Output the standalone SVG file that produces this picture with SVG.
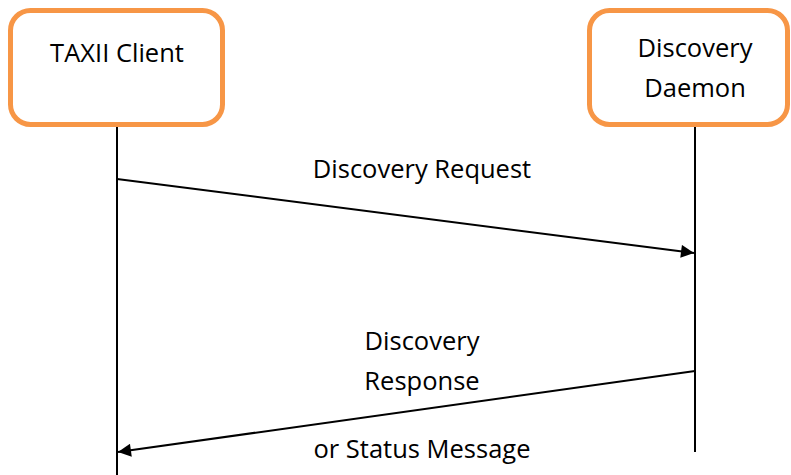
<svg xmlns="http://www.w3.org/2000/svg" width="791" height="475" viewBox="0 0 791 475">
<defs>
<style>
.box{fill:#fff;stroke:#F79646;stroke-width:5}
.life{stroke:#000;stroke-width:2;fill:none}
.msg{stroke:#000;stroke-width:2;fill:none;marker-end:url(#ah)}
text{font-family:"Open Sans","Liberation Sans",sans-serif;font-size:25.5px;fill:#000;text-anchor:middle}
</style>
<marker id="ah" viewBox="0 0 10 10" refX="10" refY="5" markerWidth="15" markerHeight="13" markerUnits="userSpaceOnUse" orient="auto">
<path d="M0,0 L10,5 L0,10 z" fill="#000"/>
</marker>
</defs>
<rect width="791" height="475" fill="#fff"/>
<g id="client">
<rect class="box" x="10.5" y="10.5" width="212" height="114" rx="20"/>
<text x="117" y="62">TAXII Client</text>
</g>
<g id="daemon">
<rect class="box" x="589.5" y="10.5" width="198" height="114" rx="20"/>
<text x="695" y="57">Discovery</text>
<text x="695" y="97">Daemon</text>
</g>
<g id="connectors">
<line class="life" x1="117" y1="127" x2="117" y2="475"/>
<line class="life" x1="695" y1="127" x2="695" y2="452"/>
<line class="msg" x1="117" y1="179" x2="694" y2="253"/>
<line class="msg" x1="695" y1="371" x2="118" y2="452"/>
</g>
<g id="labels">
<text x="422" y="178">Discovery Request</text>
<text x="422" y="350">Discovery</text>
<text x="422" y="390">Response</text>
<text x="422" y="458">or Status Message</text>
</g>
</svg>
